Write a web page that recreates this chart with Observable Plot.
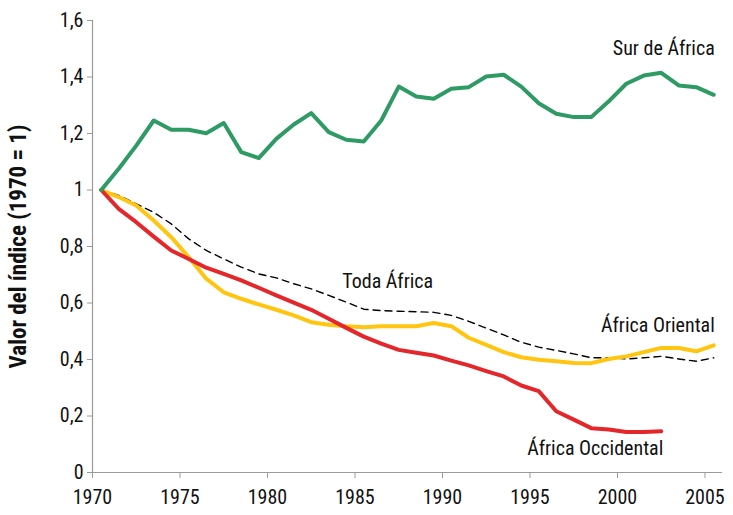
<!DOCTYPE html>
<html>
<head>
<meta charset="utf-8">
<script src="https://cdn.jsdelivr.net/npm/d3@7"></script>
<script src="https://cdn.jsdelivr.net/npm/@observablehq/plot@0.6"></script>
<style>
  html, body { margin: 0; padding: 0; background: #fff; }
  #chart svg { display: block; font-family: "Liberation Sans Narrow", "Roboto Condensed", "Roboto", sans-serif; }
</style>
</head>
<body>
<div id="chart"></div>
<script>
const years = d3.range(1970, 2006);

const surAfrica = [1.000, 1.075, 1.157, 1.246, 1.213, 1.213, 1.201, 1.237, 1.134, 1.113,
  1.181, 1.232, 1.272, 1.205, 1.178, 1.172, 1.246, 1.366, 1.331, 1.323,
  1.358, 1.364, 1.402, 1.408, 1.366, 1.307, 1.270, 1.258, 1.258, 1.314,
  1.376, 1.405, 1.415, 1.370, 1.364, 1.337];

const todaAfrica = [1.000, 0.981, 0.951, 0.921, 0.880, 0.827, 0.786, 0.756, 0.727, 0.703,
  0.689, 0.668, 0.650, 0.627, 0.603, 0.578, 0.573, 0.571, 0.569, 0.567,
  0.556, 0.535, 0.511, 0.487, 0.461, 0.444, 0.432, 0.420, 0.406, 0.406,
  0.402, 0.406, 0.411, 0.402, 0.394, 0.406];

const africaOriental = [1.000, 0.975, 0.945, 0.892, 0.833, 0.762, 0.686, 0.638, 0.615, 0.595,
  0.576, 0.556, 0.532, 0.523, 0.518, 0.514, 0.518, 0.518, 0.518, 0.529,
  0.518, 0.477, 0.452, 0.426, 0.408, 0.399, 0.394, 0.388, 0.387, 0.402,
  0.411, 0.426, 0.441, 0.441, 0.429, 0.450];

const africaOccidental = [1.000, 0.933, 0.886, 0.835, 0.786, 0.756, 0.725, 0.703, 0.680, 0.654,
  0.627, 0.601, 0.576, 0.544, 0.512, 0.481, 0.456, 0.434, 0.424, 0.414,
  0.396, 0.379, 0.359, 0.340, 0.308, 0.288, 0.217, 0.187, 0.157, 0.152,
  0.143, 0.143, 0.146];

const yTicks = [0, 0.2, 0.4, 0.6, 0.8, 1.0, 1.2, 1.4, 1.6];
const yTickLabels = ["0", "0,2", "0,4", "0,6", "0,8", "1", "1,2", "1,4", "1,6"];
const xTicks = [1970, 1975, 1980, 1985, 1990, 1995, 2000, 2005];
const xTickLabels = ["1970", "1975", "1980", "1985", "1990", "1995", "2000", "2005"];

const yTitle = "Valor del índice (1970 = 1)";

const toRows = (vals) => vals.map((v, i) => ({x: years[i] + 0.5, y: v}));

const green = "#2e9a64", yellow = "#ffc510", red = "#e3272a";

// series labels anchored to a data point of their series
const labelDefs = [
  {text: "Sur de África", vals: surAfrica, i: 35, anchor: "end", dx: 1, dy: -46},
  {text: "Toda África", vals: todaAfrica, i: 14, anchor: "start", dx: -4, dy: -21},
  {text: "África Oriental", vals: africaOriental, i: 35, anchor: "end", dx: 1, dy: -20},
  {text: "África Occidental", vals: africaOccidental, i: 32, anchor: "end", dx: 2, dy: 17}
];

const fs = 20;

const labelMarks = labelDefs.map(l => Plot.text([{x: years[l.i] + 0.5, y: l.vals[l.i]}], {
  x: "x", y: "y", text: () => l.text, textAnchor: l.anchor, dx: l.dx, dy: l.dy,
  fontSize: fs, fill: "#111"
}));

const chart = Plot.plot({
  width: 733,
  height: 515,
  marginLeft: 92,
  marginRight: 11,
  marginTop: 20,
  marginBottom: 43,
  style: {fontSize: fs + "px", color: "#111", background: "#fff"},
  x: {domain: [1970, 2006]},
  y: {domain: [0, 1.6]},
  marks: [
    Plot.ruleY([0], {stroke: "#9a9a9a", strokeWidth: 1.2}),
    Plot.ruleX([1970], {stroke: "#9a9a9a", strokeWidth: 1.2}),
    Plot.axisY({ticks: yTicks, tickFormat: (d, i) => yTickLabels[i], tickSize: 5, tickPadding: 4,
      stroke: "#9a9a9a", label: null, fontSize: fs}),
    Plot.axisX({ticks: xTicks, tickFormat: (d, i) => xTickLabels[i], tickSize: 6, tickPadding: 11,
      stroke: "#9a9a9a", label: null, fontSize: fs}),
    Plot.text([yTitle], {frameAnchor: "left", dx: -74, rotate: -90, text: d => d,
      textAnchor: "middle", lineAnchor: "middle",
      fontWeight: "bold", fontSize: 23, fill: "#111"}),
    Plot.line(toRows(todaAfrica), {x: "x", y: "y", stroke: "#000", strokeWidth: 1.4, strokeDasharray: "7,5"}),
    Plot.line(toRows(africaOriental), {x: "x", y: "y", stroke: yellow, strokeWidth: 4, strokeLinejoin: "round"}),
    Plot.line(toRows(africaOccidental), {x: "x", y: "y", stroke: red, strokeWidth: 4, strokeLinejoin: "round"}),
    Plot.line(toRows(surAfrica), {x: "x", y: "y", stroke: green, strokeWidth: 4, strokeLinejoin: "round"}),
    ...labelMarks
  ]
});

document.getElementById("chart").appendChild(chart);
</script>
</body>
</html>
